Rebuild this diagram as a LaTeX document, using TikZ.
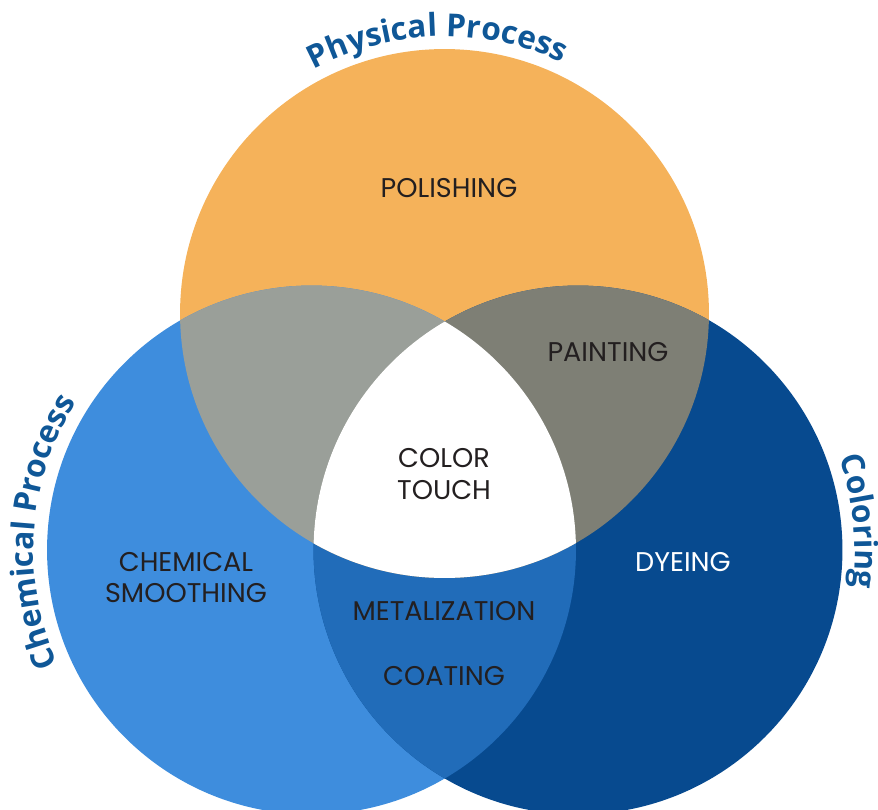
\documentclass[tikz,border=0pt]{standalone}
\usepackage{fontspec}
\newfontfamily\labelfont{Poppins}
\newfontfamily\titlefont{Open Sans}
\usetikzlibrary{decorations.text}

\definecolor{physical}{HTML}{F5B25A}
\definecolor{chemical}{HTML}{3E8DDD}
\definecolor{coloring}{HTML}{074A8F}
\definecolor{physchem}{HTML}{9A9F99}
\definecolor{physcol}{HTML}{7E7F75}
\definecolor{chemcol}{HTML}{216CB9}
\definecolor{ink}{HTML}{231F20}
\definecolor{heading}{HTML}{0F5797}

\begin{document}
\begin{tikzpicture}[
        x=0.02cm, y=0.02cm,
        region/.style={font=\labelfont\fontsize{15.4}{18}\selectfont, text=ink, align=center},
        title/.style={decorate, decoration={text along path, text align=center, text color=heading,
            text={|\titlefont\bfseries\fontsize{18}{20}\selectfont|#1}}}
    ]
        \useasboundingbox (0,0) rectangle (878,809);
        \def\rad{5.29cm}
        \coordinate (top) at (444.5,495.5);
        \coordinate (left) at (311.5,259);
        \coordinate (right) at (578,259);

        % the three sets
        \fill[physical] (top) circle[radius=\rad];
        \fill[chemical] (left) circle[radius=\rad];
        \fill[coloring] (right) circle[radius=\rad];

        % pairwise overlaps
        \begin{scope}
            \clip (left) circle[radius=\rad];
            \fill[chemcol] (right) circle[radius=\rad];
        \end{scope}
        \begin{scope}
            \clip (top) circle[radius=\rad];
            \fill[physchem] (left) circle[radius=\rad];
        \end{scope}
        \begin{scope}
            \clip (top) circle[radius=\rad];
            \fill[physcol] (right) circle[radius=\rad];
        \end{scope}

        % centre
        \begin{scope}
            \clip (top) circle[radius=\rad];
            \clip (left) circle[radius=\rad];
            \fill[white] (right) circle[radius=\rad];
        \end{scope}

        \node[region] (polishing) at (449,621) {POLISHING};
        \node[region] (painting) at (608,457) {PAINTING};
        \node[region] (touch) at (444,335) {COLOR\\TOUCH};
        \node[region] (smoothing) at (186,231.5) {CHEMICAL\\SMOOTHING};
        \node[region, text=white] (dyeing) at (683,247) {DYEING};
        \node[region] (metal) at (444,198) {METALIZATION};
        \node[region] (coating) at (444,133) {COATING};

        % set names around the rims
        \path[title=Physical Process] (top) ++(151.5:5.54cm) arc[start angle=151.5, end angle=31.5, radius=5.54cm];
        \path[title=Chemical Process] (left) ++(236:5.56cm) arc[start angle=236, end angle=116, radius=5.56cm];
        \path[title=Coloring] (right) ++(65.8:5.54cm) arc[start angle=65.8, end angle=-54.2, radius=5.54cm];
    \end{tikzpicture}
\end{document}
